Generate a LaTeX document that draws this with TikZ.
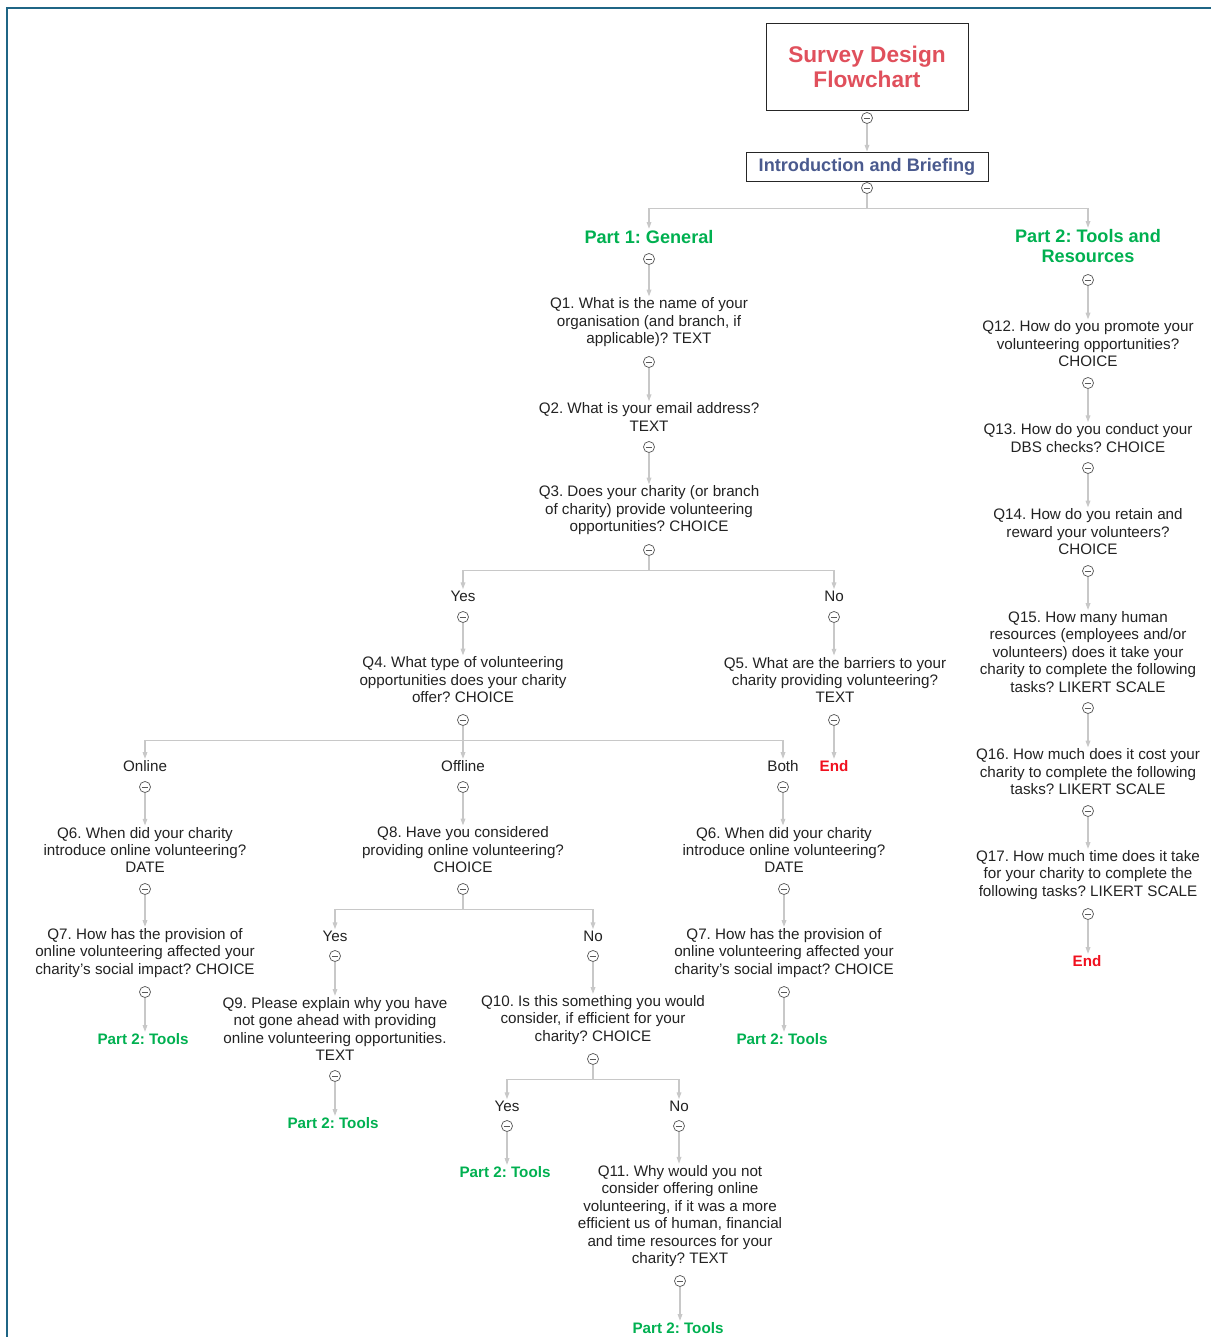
\documentclass[tikz,border=0pt]{standalone}
\usepackage{fontspec}
\setmainfont{Liberation Sans}
\usepackage{xcolor}
\usepackage{tikz}
\usetikzlibrary{arrows.meta}
\usetikzlibrary{calc}
\frenchspacing

\definecolor{linkgray}{HTML}{C8C8C8}
\definecolor{partgreen}{HTML}{00B050}
\definecolor{titlered}{HTML}{E0505C}
\definecolor{endred}{HTML}{F0101E}
\definecolor{introblue}{HTML}{4A5A8E}
\definecolor{frameblue}{HTML}{1F6585}
\definecolor{qtext}{HTML}{222222}

\begin{document}
\begin{tikzpicture}[x=0.75pt, y=-0.75pt,
  q/.style={align=center, inner sep=1pt, text=qtext, font=\fontsize{11.4}{13.1}\selectfont},
  part/.style={align=center, inner sep=1pt, text=partgreen, font=\bfseries\fontsize{13.6}{15}\selectfont},
  tools/.style={inner sep=1pt, text=partgreen, font=\bfseries\fontsize{11.4}{13.1}\selectfont},
  endnode/.style={inner sep=1pt, text=endred, font=\bfseries\fontsize{11.4}{13.1}\selectfont},
  tog/.style={circle, draw=black!65, fill=white, line width=0.55pt, inner sep=0pt, minimum size=8.3pt,
    path picture={\draw[black!65, line width=0.55pt] ([xshift=-2.6pt]path picture bounding box.center) -- ([xshift=2.6pt]path picture bounding box.center);}},
  conn/.style={draw=linkgray, line width=0.8pt, -{Triangle[length=5pt,width=3.5pt]}}
]
 \useasboundingbox (0,0) rectangle (1211,1337);

 %frame
 \draw[frameblue, line width=2pt] (7,1337) -- (7,8) -- (1211,8);

 %top
 \node[draw=black!85, line width=0.6pt, minimum width=151.5pt, minimum height=65.25pt, align=center,
       text=titlered, font=\bfseries\fontsize{17}{18.75}\selectfont] (title) at (867,66.5) {Survey Design\\Flowchart};
 \node[draw=black!85, line width=0.6pt, minimum width=181.5pt, minimum height=21.75pt,
       text=introblue, font=\bfseries\fontsize{13.6}{15}\selectfont] (intro) at (867,166.5) {Introduction and Briefing};

 \node[part] (p1) at (649,237) {Part 1: General};
 \node[part] (p2) at (1088,246) {Part 2: Tools and\\Resources};

 %part 1
 \node[q] (q1) at (649,322.5) {Q1. What is the name of your\\organisation (and branch, if\\applicable)? TEXT};
 \node[q] (q2) at (649,417) {Q2. What is your email address?\\TEXT};
 \node[q] (q3) at (649,510.5) {Q3. Does your charity (or branch\\of charity) provide volunteering\\opportunities? CHOICE};
 \node[q] (yes3) at (463,596) {Yes};
 \node[q] (no3) at (834,596) {No};
 \node[q] (q4) at (463,680) {Q4. What type of volunteering\\opportunities does your charity\\offer? CHOICE};
 \node[q] (q5) at (835,680) {Q5. What are the barriers to your\\charity providing volunteering?\\TEXT};
 \node[endnode] (end5) at (834,766) {End};

 %level 3
 \node[q] (online) at (145,766) {Online};
 \node[q] (offline) at (463,766) {Offline};
 \node[q] (both) at (783,766) {Both};

 \node[q] (q6a) at (145,850) {Q6. When did your charity\\introduce online volunteering?\\DATE};
 \node[q] (q7a) at (145,953) {Q7. How has the provision of\\online volunteering affected your\\charity's social impact? CHOICE};
 \node[tools] (toolsa) at (143,1039) {Part 2: Tools};

 \node[q] (q8) at (463,850) {Q8. Have you considered\\providing online volunteering?\\CHOICE};
 \node[q] (yes8) at (335,936) {Yes};
 \node[q] (no8) at (593,936) {No};
 \node[q] (q9) at (335,1029) {Q9. Please explain why you have\\not gone ahead with providing\\online volunteering opportunities.\\TEXT};
 \node[tools] (toolsb) at (333,1123) {Part 2: Tools};
 \node[q] (q10) at (593,1020) {Q10. Is this something you would\\consider, if efficient for your\\charity? CHOICE};
 \node[q] (yes10) at (507,1106) {Yes};
 \node[q] (no10) at (679,1106) {No};
 \node[tools] (toolsc) at (505,1172) {Part 2: Tools};
 \node[q] (q11) at (680,1216) {Q11. Why would you not\\consider offering online\\volunteering, if it was a more\\efficient us of human, financial\\and time resources for your\\charity? TEXT};
 \node[tools] (toolsd) at (678,1328) {Part 2: Tools};

 \node[q] (q6b) at (784,850) {Q6. When did your charity\\introduce online volunteering?\\DATE};
 \node[q] (q7b) at (784,953) {Q7. How has the provision of\\online volunteering affected your\\charity's social impact? CHOICE};
 \node[tools] (toolse) at (782,1039) {Part 2: Tools};

 %part 2
 \node[q] (q12) at (1088,344) {Q12. How do you promote your\\volunteering opportunities?\\CHOICE};
 \node[q] (q13) at (1088,438) {Q13. How do you conduct your\\DBS checks? CHOICE};
 \node[q] (q14) at (1088,532) {Q14. How do you retain and\\reward your volunteers?\\CHOICE};
 \node[q] (q15) at (1088,652) {Q15. How many human\\resources (employees and/or\\volunteers) does it take your\\charity to complete the following\\tasks? LIKERT SCALE};
 \node[q] (q16) at (1088,772) {Q16. How much does it cost your\\charity to complete the following\\tasks? LIKERT SCALE};
 \node[q] (q17) at (1088,875) {Q17. How much time does it take\\for your charity to complete the\\following tasks? LIKERT SCALE};
 \node[endnode] (end17) at (1087,961) {End};

 %toggles
 \foreach \name/\x/\y in {title/867/118, intro/867/188, p1/649/259, p2/1088/280,
     q1/649/362, q2/649/447, q3/649/550, yes3/463/617, no3/834/617, q4/463/720, q5/834/720,
     online/145/787, offline/463/787, both/783/787, q6a/145/889, q7a/145/992,
     q8/463/889, yes8/335/956, no8/593/956, q9/335/1076, q10/593/1059,
     yes10/507/1126, no10/679/1126, q11/680/1281, q6b/784/889, q7b/784/992,
     q12/1088/383, q13/1088/468, q14/1088/571, q15/1088/708, q16/1088/811, q17/1088/914} {
   \node[tog] (i\name) at (\x,\y) {};
 }

 %arrows
 \foreach \a/\b in {title/intro, p1/q1, q1/q2, q2/q3, yes3/q4, no3/q5, q5/end5,
     online/q6a, q6a/q7a, q7a/toolsa, offline/q8, yes8/q9, q9/toolsb, no8/q10,
     yes10/toolsc, no10/q11, q11/toolsd, both/q6b, q6b/q7b, q7b/toolse,
     p2/q12, q12/q13, q13/q14, q14/q15, q15/q16, q16/q17, q17/end17} {
   \draw[conn] (i\a.south) -- (i\a.south |- \b.north);
 }

 %branches
 \foreach \a/\b in {intro/p1, intro/p2, q3/yes3, q3/no3, q4/online, q4/offline, q4/both,
     q8/yes8, q8/no8, q10/yes10, q10/no10} {
   \draw[conn] (i\a.south) -- ++(0,15) -| (\b.north);
 }
\end{tikzpicture}
\end{document}
